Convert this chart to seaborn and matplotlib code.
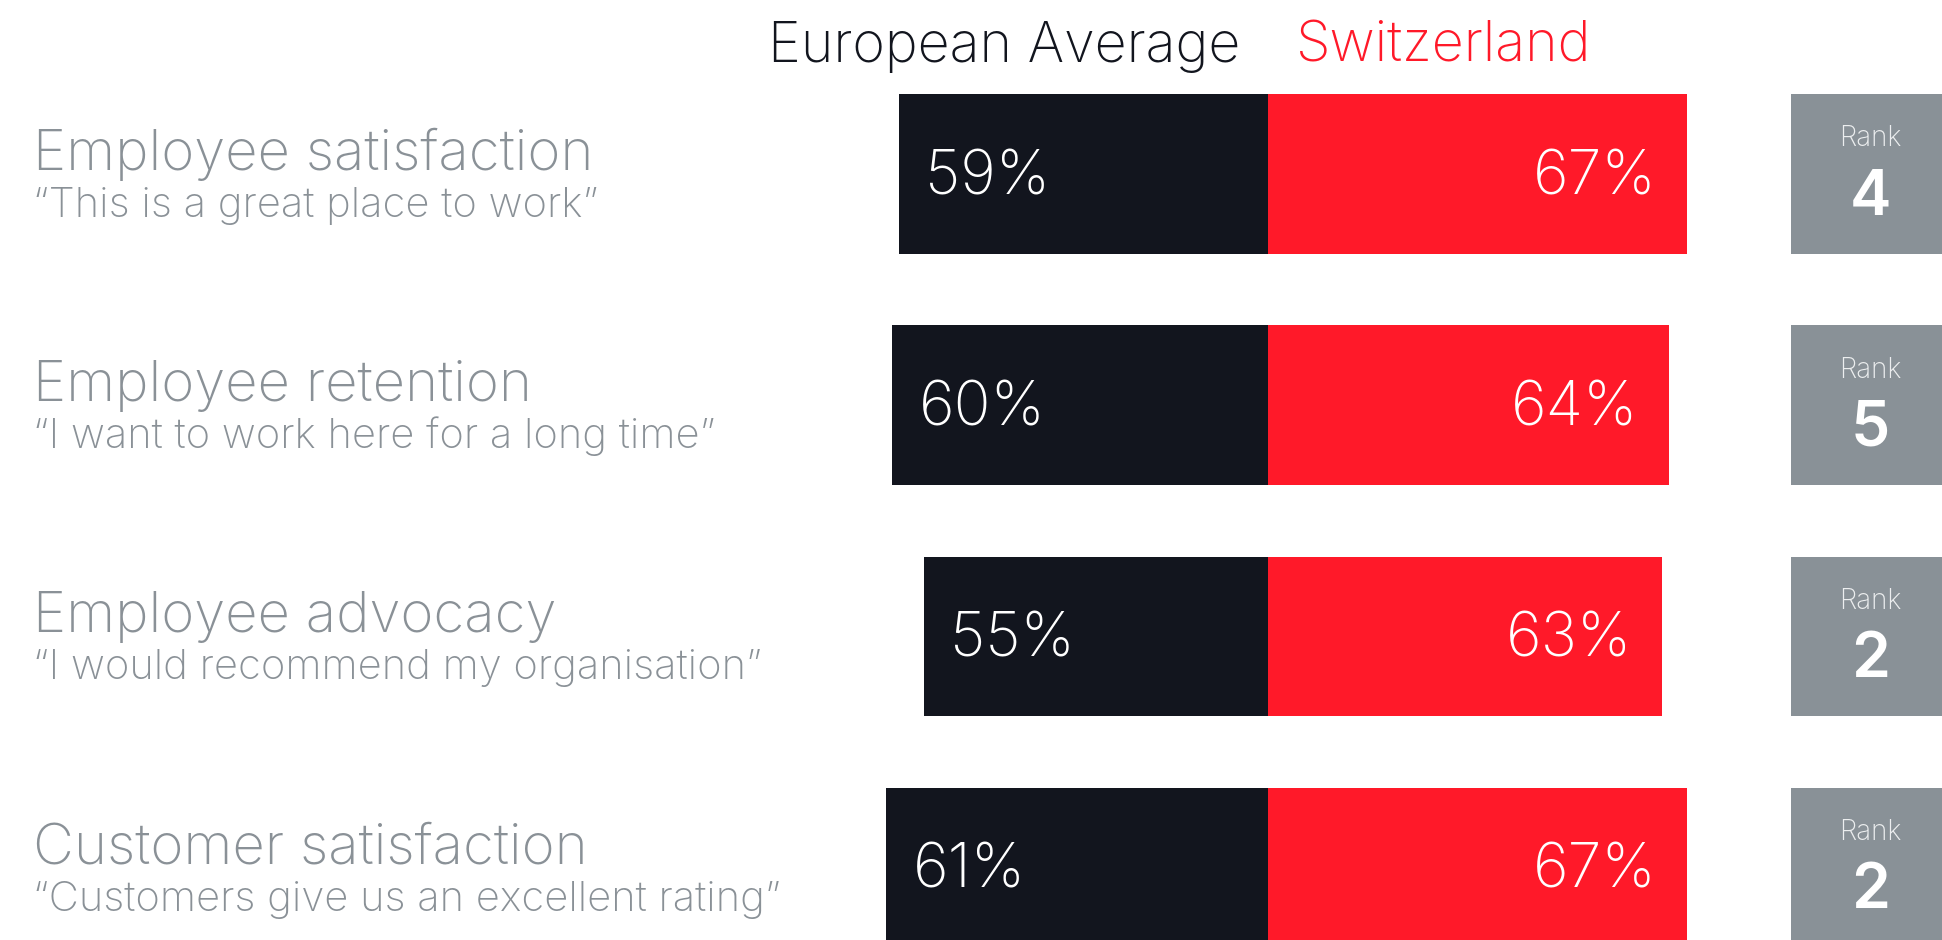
import matplotlib
matplotlib.use("Agg")
import matplotlib.pyplot as plt
import seaborn as sns
import pandas as pd

# Survey results: European average vs Switzerland
metrics = ["Employee satisfaction", "Employee retention",
           "Employee advocacy", "Customer satisfaction"]
quotes = ["\u201cThis is a great place to work\u201d",
          "\u201cI want to work here for a long time\u201d",
          "\u201cI would recommend my organisation\u201d",
          "\u201cCustomers give us an excellent rating\u201d"]
european_avg = [59, 60, 55, 61]
switzerland = [67, 64, 63, 67]
ranks = [4, 5, 2, 2]

DARK = "#12151e"
RED = "#ff1929"
GREY = "#8a9197"
BOX = "#899197"

sns.set_theme(style="white")
plt.rcParams["font.family"] = ["Inter", "DejaVu Sans"]

df = pd.DataFrame({"metric": metrics,
                   "euro": [-v for v in european_avg],
                   "swiss": switzerland})

fig = plt.figure(figsize=(19.42, 9.40), dpi=100)
ax = fig.add_axes([0, 0, 1, 1])

bar_h = 0.69
sns.barplot(data=df, x="euro", y="metric", orient="h", color=DARK,
            width=bar_h, saturation=1, ax=ax, linewidth=0)
sns.barplot(data=df, x="swiss", y="metric", orient="h", color=RED,
            width=bar_h, saturation=1, ax=ax, linewidth=0)

# Rank boxes on the right
box_left = 83.5
ax.barh(range(len(metrics)), [40] * len(metrics), left=box_left,
        height=bar_h, color=BOX, linewidth=0)

ax.set_xlim(-202.6, 107.7)
ax.set_ylim(3.313, -0.7526)
ax.axis("off")

ytrans = ax.get_yaxis_transform()
for i in range(len(metrics)):
    # left-hand labels
    ax.text(0.017, i - 0.017, metrics[i], transform=ytrans,
            ha="left", va="baseline", fontsize=40.5, color=GREY,
            fontweight="light")
    ax.text(0.017, i + 0.186, quotes[i], transform=ytrans,
            ha="left", va="baseline", fontsize=30, color=GREY,
            fontweight="light")
    # value labels inside bars
    ax.annotate(f"{european_avg[i]}%", xy=(-european_avg[i], i),
                xytext=(19, -3), textcoords="offset points",
                ha="left", va="center", fontsize=44, color="white",
                fontweight="light")
    ax.annotate(f"{switzerland[i]}%", xy=(switzerland[i], i),
                xytext=(-22, -3), textcoords="offset points",
                ha="right", va="center", fontsize=44, color="white",
                fontweight="light")
    # rank box text
    bx = 0.963
    ax.text(bx, i - 0.152, "Rank", transform=ytrans,
            ha="center", va="center", fontsize=20, color="#eceeef",
            fontweight="light")
    ax.text(bx, i + 0.105, str(ranks[i]), transform=ytrans,
            ha="center", va="center", fontsize=45, color="white",
            fontweight="semibold")

# Column headers
ax.annotate("European Average", xy=(0, -0.55), xytext=(-20, 0),
            textcoords="offset points", ha="right", va="center",
            fontsize=40, color=DARK, fontweight="light")
ax.annotate("Switzerland", xy=(0, -0.55), xytext=(20, 0),
            textcoords="offset points", ha="left", va="center",
            fontsize=40, color=RED, fontweight="light")

fig.savefig("out.png", dpi=100, facecolor="white")
